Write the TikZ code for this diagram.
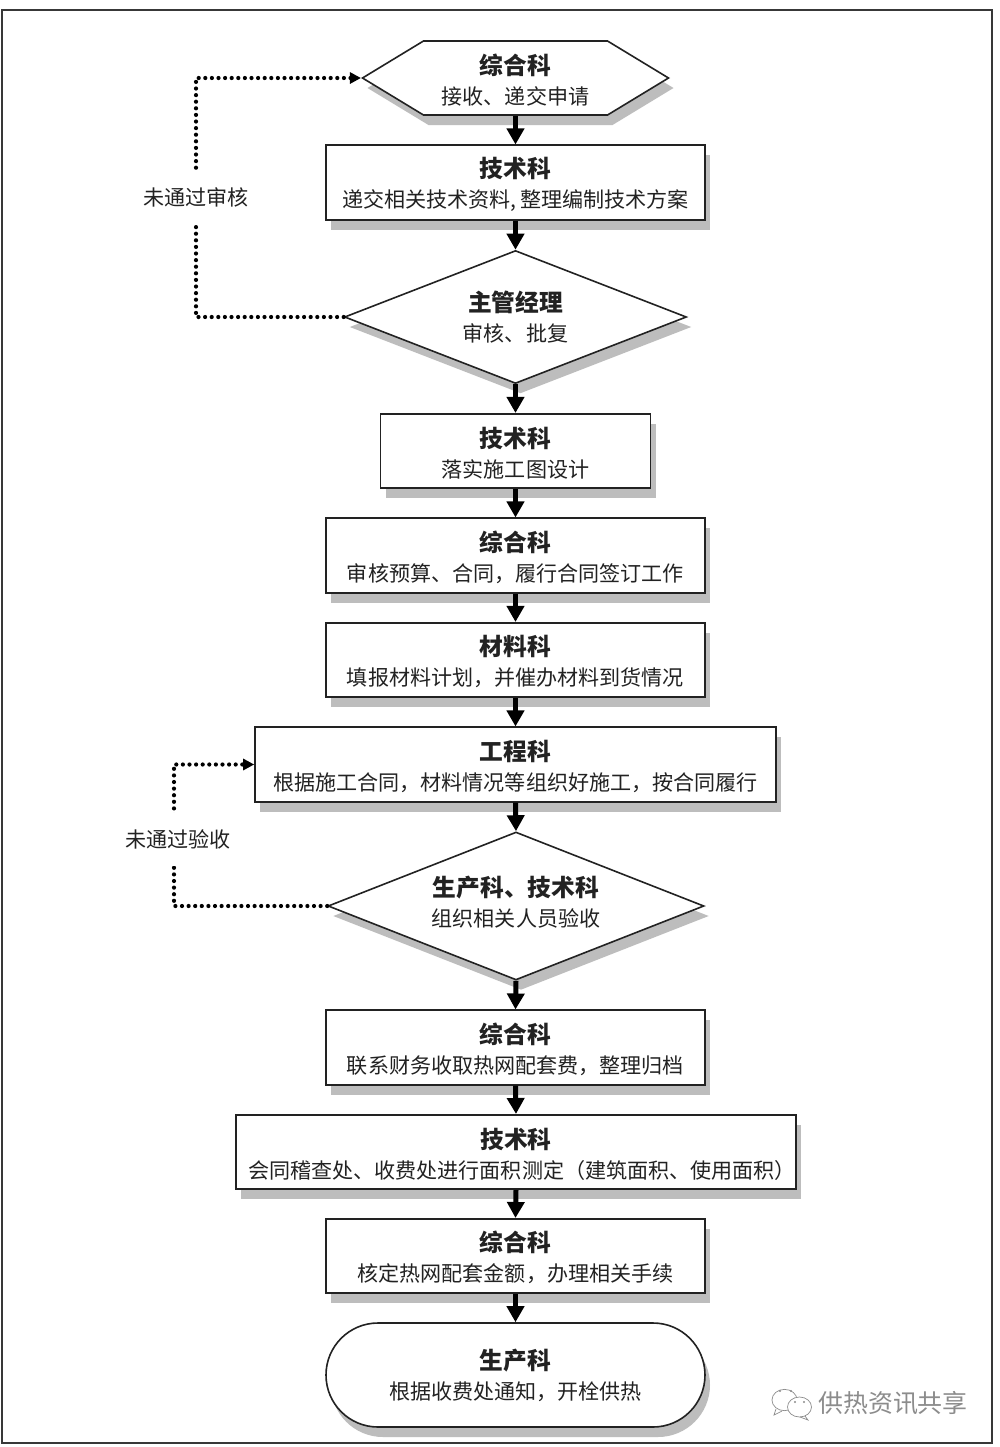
\documentclass[tikz,border=0pt]{standalone}
\usepackage{fontspec}
\setmainfont{Noto Sans CJK SC}
\usetikzlibrary{arrows.meta,shapes.geometric,shapes.symbols,shapes.misc,shadows}
\def\u{0.75pt}
\definecolor{ink}{HTML}{222222}
\definecolor{shade}{HTML}{BDBDBD}
\definecolor{wmgray}{HTML}{8C8C8C}
\newcommand\hd{\fontsize{17.8}{22.5}\selectfont\bfseries}
\newcommand\sbt{\fontsize{15.8}{22.5}\selectfont}
\newcommand\tl[3][18pt]{{\hd\rule{0pt}{#1}#2}\\{\sbt #3}}
\tikzset{
  x=\u,y=-\u,
  shapebase/.style={draw=ink,line width=1.6*\u,fill=white,inner sep=0pt,align=center,text=ink,
    font=\sbt,drop shadow={shadow xshift=5*\u,shadow yshift=-10*\u,fill=shade,opacity=1}},
  boxnode/.style={shapebase,rectangle,minimum width=#1*\u,minimum height=74.5*\u},
  decide/.style n args={3}{shapebase,diamond,minimum width=#1*\u,minimum height=#2*\u,shape aspect=#3},
  hexnode/.style={shapebase,signal,signal to=west and east,signal pointer angle=62.5,minimum width=306*\u,minimum height=74*\u},
  termnode/.style={shapebase,rounded rectangle,minimum width=379*\u,minimum height=104*\u},
  flow/.style={line width=5*\u,draw=black,-{Triangle[width=17*\u,length=16*\u]}},
  loopback/.style={line width=4.2*\u,draw=black,line cap=round,dash pattern=on 0pt off 6.6*\u,-{Triangle[width=11*\u,length=11*\u]}},
  looplabel/.style={fill=white,inner sep=0pt,text=ink,font=\sbt,minimum height=53*\u,minimum width=112*\u},
  frameline/.style={draw=ink!90,line width=2*\u,rectangle,minimum width=990*\u,minimum height=1433*\u,inner sep=0pt},
  bubble/.style={draw=wmgray,line width=0.7*\u},
}
\begin{document}
\begin{tikzpicture}
\useasboundingbox (0,0) rectangle (1000,1447);
\fill[white] (0,0) rectangle (1000,1447);
\node[frameline] (frame) at (497,726.5) {};
\node[hexnode] (n1) at (515.5,78) {\tl{综合科}{接收、递交申请}};
\node[boxnode=379] (n2) at (515.5,182.5) {\tl{技术科}{递交相关技术资料,\hspace{2.5pt}整理编制技术方案}};
\node[decide={342}{133}{2.571}] (n3) at (515.5,317) {\tl[15pt]{主管经理}{审核、批复}};
\node[boxnode=270] (n4) at (515.5,451) {\tl{技术科}{落实施工图设计}};
\node[boxnode=379] (n5) at (515.5,555.5) {\tl{综合科}{审核预算、合同，履行合同签订工作}};
\node[boxnode=379] (n6) at (515.5,660) {\tl{材料科}{填报材料计划，并催办材料到货情况}};
\node[boxnode=521] (n7) at (515.5,764.5) {\tl{工程科}{根据施工合同，材料情况等组织好施工，按合同履行}};
\node[decide={376}{148}{2.541}] (n8) at (516,906) {\tl[15pt]{生产科、技术科}{组织相关人员验收\rule[-7pt]{0pt}{0pt}}};
\node[boxnode=379] (n9) at (515.5,1047.5) {\tl{综合科}{联系财务收取热网配套费，整理归档}};
\node[boxnode=558] (n10) at (516,1152) {\tl{技术科}{\hspace*{9pt}会同稽查处、收费处进行面积测定（建筑面积、使用面积）}};
\node[boxnode=379] (n11) at (515.5,1256) {\tl{综合科}{核定热网配套金额，办理相关手续}};
\node[termnode] (n12) at (515.5,1375) {\tl[15pt]{生产科}{根据收费处通知，开栓供热}};
\foreach \a/\b in {n1/n2,n2/n3,n3/n4,n4/n5,n5/n6,n6/n7,n7/n8,n8/n9,n9/n10,n10/n11,n11/n12}
  \draw[flow] (\a.south) -- (\b.north);
\coordinate (c1) at (196,198);
\coordinate (c2) at (174,840);
\draw[loopback] (n3.west) -| (c1) |- (n1.west);
\draw[loopback] (n8.west) -| (c2) |- (n7.west);
\node[looplabel] (l1) at (196,197) {未通过审核};
\node[looplabel] (l2) at (178,839) {未通过验收};
\draw[bubble] (784.5,1400) ellipse[x radius=9.4pt,y radius=8pt];
\draw[bubble] (776,1409) -- (774,1415) -- (782,1411);
\draw[bubble,fill=white] (799.5,1407) ellipse[x radius=9pt,y radius=7.5pt];
\draw[bubble] (805,1416) -- (808,1420) -- (800,1417);
\fill[wmgray] (780,1391) circle[radius=0.8pt] (791,1391) circle[radius=0.8pt] (795,1402) circle[radius=0.8pt] (804,1402) circle[radius=0.8pt];
\node[text=wmgray,inner sep=0pt,font=\fontsize{18.7}{20}\selectfont] (wm) at (893,1403) {供热资讯共享};
\end{tikzpicture}
\end{document}
